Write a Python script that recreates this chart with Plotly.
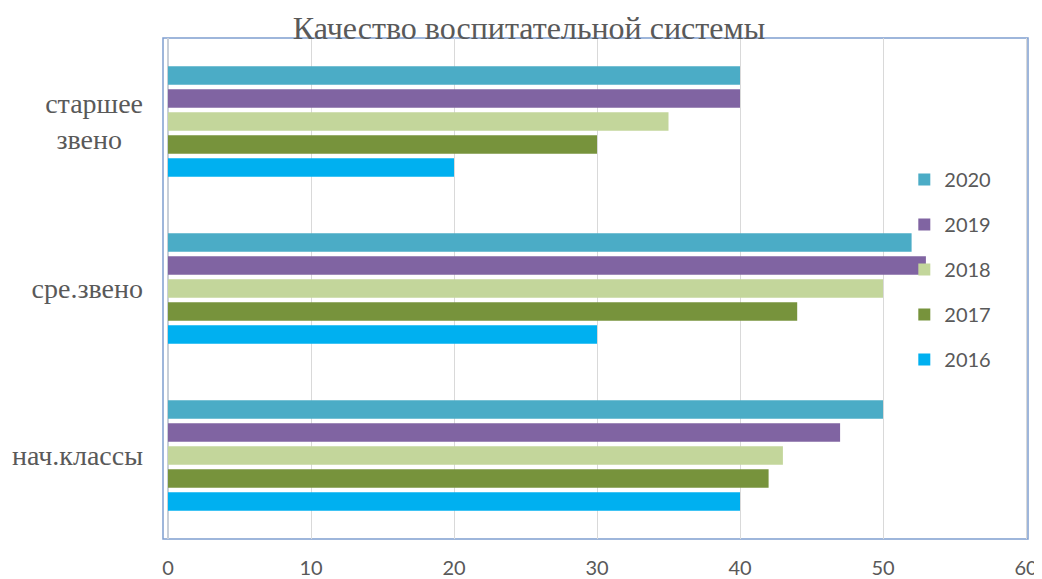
import plotly.graph_objects as go

categories = ["нач.классы", "сре.звено", "старшее звено"]
cat_labels = ["нач.классы", "сре.звено", "старшее<br>звено\u00a0\u00a0\u00a0"]
years = ["2016", "2017", "2018", "2019", "2020"]
values = {
    "2016": [40, 30, 20],
    "2017": [42, 44, 30],
    "2018": [43, 50, 35],
    "2019": [47, 53, 40],
    "2020": [50, 52, 40],
}
colors = {
    "2016": "#00B0F0",
    "2017": "#77933C",
    "2018": "#C3D69B",
    "2019": "#8064A2",
    "2020": "#4BACC6",
}
x_ticks = [0, 10, 20, 30, 40, 50, 60]

fig = go.Figure()
for i, yr in enumerate(years):
    fig.add_trace(go.Bar(
        y=categories, x=values[yr], name=yr, orientation="h",
        marker=dict(color=colors[yr], line=dict(width=0)),
        legendgroup=yr, legendrank=len(years) - i,
    ))

# note: page body has an 8px default margin, so figure coords = screen - 8
fig.update_layout(
    width=1042, height=579,
    margin=dict(l=155, r=22, t=30, b=48, autoexpand=False),
    paper_bgcolor="white", plot_bgcolor="white",
    barmode="group", bargap=0.31, bargroupgap=0.2,
    title=dict(text="Качество воспитательной системы",
               font=dict(family="Liberation Serif", size=32, color="#595959"),
               x=0.5, xanchor="center", yref="container", y=0.9655, yanchor="middle"),
    legend=dict(
        traceorder="grouped", x=0.857, xanchor="left", y=0.7565, yanchor="top",
        font=dict(family="Lato", size=20, color="#595959"),
        tracegroupgap=16, bgcolor="rgba(0,0,0,0)",
    ),
    showlegend=True,
)
fig.update_xaxes(
    range=[-0.35, 60.14], tickvals=x_ticks, ticktext=[str(v) for v in x_ticks],
    showgrid=True, gridcolor="#D9D9D9", gridwidth=1,
    zeroline=True, zerolinecolor="#C8CFD8", zerolinewidth=2,
    showline=False, ticks="", automargin=False,
    tickfont=dict(family="Lato", size=20, color="#595959"),
    ticklabelstandoff=15,
)
fig.update_yaxes(
    categoryorder="array", categoryarray=categories,
    tickvals=categories, ticktext=cat_labels,
    showgrid=False, zeroline=False, showline=False, ticks="", automargin=False,
    tickfont=dict(family="Liberation Serif", size=28, color="#595959"),
    ticklabelstandoff=19,
)
fig.add_shape(type="rect", xref="paper", yref="paper", x0=0, x1=1, y0=0, y1=1,
              line=dict(color="#7F9ED0", width=1.5), layer="below")

fig.write_html("out.html")
